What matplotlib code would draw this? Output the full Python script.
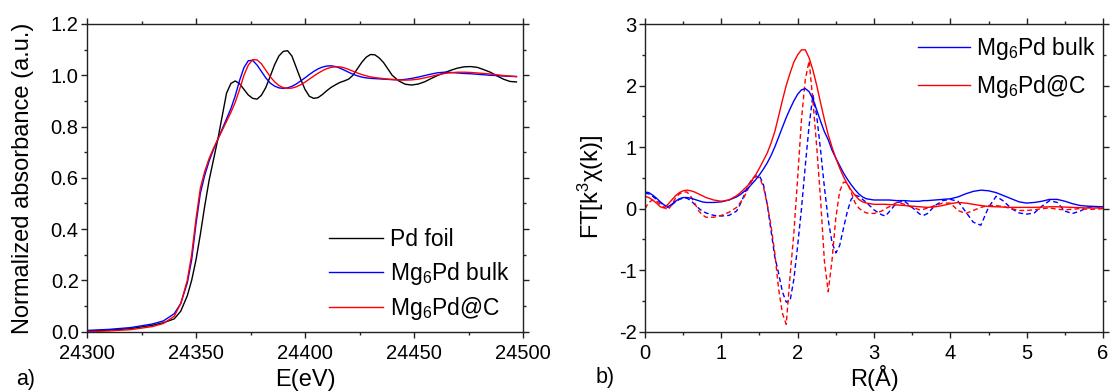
import matplotlib
matplotlib.use("Agg")
import matplotlib.pyplot as plt
from matplotlib.ticker import MultipleLocator

plt.rcParams['font.family'] = ['Liberation Sans', 'DejaVu Sans']
plt.rcParams['mathtext.fontset'] = 'custom'
plt.rcParams['mathtext.rm'] = 'Liberation Sans'
plt.rcParams['mathtext.it'] = 'Liberation Sans:italic'
plt.rcParams['mathtext.bf'] = 'Liberation Sans:bold'
plt.rcParams['axes.unicode_minus'] = False

# ---------------- Panel a) XANES ----------------
energy = [24300, 24310, 24320, 24330, 24335, 24340, 24343, 24346, 24348, 24350,
          24352, 24354, 24356, 24358, 24360, 24362, 24364, 24366, 24368, 24370,
          24372, 24374, 24376, 24378, 24380, 24382, 24384, 24386, 24388, 24390,
          24392, 24394, 24396, 24398, 24400, 24402, 24404, 24406, 24408, 24410,
          24412, 24414, 24416, 24418, 24420, 24422, 24424, 24426, 24428, 24430,
          24432, 24434, 24436, 24438, 24440, 24443, 24446, 24449, 24452, 24455,
          24458, 24461, 24464, 24467, 24470, 24473, 24476, 24479, 24482, 24485,
          24488, 24491, 24494, 24497]

pd_foil = [0.003, 0.006, 0.012, 0.025, 0.035, 0.05, 0.08, 0.14, 0.20, 0.28,
           0.38, 0.49, 0.59, 0.67, 0.75, 0.84, 0.93, 0.968, 0.978, 0.967,
           0.945, 0.923, 0.910, 0.907, 0.922, 0.952, 0.995, 1.04, 1.075, 1.093,
           1.096, 1.075, 1.030, 0.985, 0.945, 0.918, 0.910, 0.913, 0.925, 0.940,
           0.953, 0.963, 0.972, 0.978, 0.985, 1.0, 1.025, 1.050, 1.070, 1.081,
           1.080, 1.068, 1.050, 1.025, 1.0, 0.978, 0.965, 0.962, 0.966, 0.975,
           0.988, 1.0, 1.010, 1.02, 1.028, 1.033, 1.034, 1.031, 1.022, 1.012,
           0.998, 0.985, 0.976, 0.974]

mg6pd_bulk_xanes = [0.005, 0.009, 0.016, 0.03, 0.042, 0.07, 0.11, 0.19, 0.28, 0.42,
                    0.54, 0.61, 0.665, 0.71, 0.75, 0.79, 0.83, 0.87, 0.92, 0.98,
                    1.03, 1.057, 1.058, 1.04, 1.015, 0.99, 0.97, 0.958, 0.951, 0.949,
                    0.951, 0.957, 0.966, 0.978, 0.99, 1.003, 1.015, 1.025, 1.032, 1.036,
                    1.037, 1.034, 1.028, 1.02, 1.012, 1.004, 0.998, 0.993, 0.99, 0.988,
                    0.987, 0.986, 0.985, 0.984, 0.983, 0.982, 0.984, 0.988, 0.993, 0.999,
                    1.005, 1.01, 1.012, 1.011, 1.009, 1.007, 1.006, 1.004, 1.002, 1.0,
                    0.999, 0.997, 0.996, 0.995]

mg6pd_c_xanes = [0.0, 0.003, 0.008, 0.02, 0.032, 0.06, 0.11, 0.2, 0.3, 0.44,
                 0.56, 0.625, 0.675, 0.715, 0.75, 0.785, 0.82, 0.855, 0.895, 0.945,
                 1.0, 1.04, 1.061, 1.06, 1.045, 1.02, 0.995, 0.975, 0.96, 0.952,
                 0.949, 0.950, 0.955, 0.963, 0.973, 0.985, 0.997, 1.008, 1.018, 1.026,
                 1.031, 1.033, 1.033, 1.029, 1.023, 1.016, 1.009, 1.003, 0.998, 0.994,
                 0.991, 0.989, 0.987, 0.985, 0.984, 0.982, 0.981, 0.982, 0.985, 0.99,
                 0.996, 1.002, 1.007, 1.01, 1.012, 1.012, 1.011, 1.009, 1.007, 1.005,
                 1.002, 0.999, 0.997, 0.995]

# ---------------- Panel b) FT ----------------
r = [0.0, 0.05, 0.1, 0.15, 0.2, 0.25, 0.3, 0.35, 0.4, 0.45,
     0.5, 0.55, 0.6, 0.65, 0.7, 0.75, 0.8, 0.9, 1.0, 1.1,
     1.2, 1.25, 1.3, 1.35, 1.4, 1.45, 1.5, 1.55, 1.6, 1.65,
     1.7, 1.75, 1.8, 1.85, 1.9, 1.95, 2.0, 2.05, 2.1, 2.15,
     2.2, 2.25, 2.3, 2.35, 2.4, 2.45, 2.5, 2.55, 2.6, 2.65,
     2.7, 2.75, 2.8, 2.85, 2.9, 3.0, 3.1, 3.15, 3.2, 3.3,
     3.4, 3.5, 3.6, 3.65, 3.7, 3.8, 3.9, 4.0, 4.1, 4.2,
     4.3, 4.4, 4.5, 4.6, 4.7, 4.8, 4.9, 5.0, 5.1, 5.2,
     5.3, 5.4, 5.5, 5.6, 5.7, 5.8, 5.9, 6.0]

bulk_mag = [0.27, 0.26, 0.22, 0.17, 0.11, 0.06, 0.03, 0.07, 0.12, 0.16,
            0.18, 0.18, 0.17, 0.15, 0.13, 0.11, 0.10, 0.10, 0.11, 0.14,
            0.19, 0.23, 0.28, 0.33, 0.40, 0.47, 0.55, 0.64, 0.74, 0.86,
            1.0, 1.16, 1.32, 1.48, 1.62, 1.75, 1.86, 1.93, 1.95, 1.90,
            1.78, 1.60, 1.42, 1.25, 1.12, 0.95, 0.82, 0.70, 0.58, 0.48,
            0.39, 0.31, 0.24, 0.19, 0.16, 0.14, 0.14, 0.14, 0.14, 0.13,
            0.13, 0.12, 0.12, 0.13, 0.13, 0.14, 0.15, 0.16, 0.19, 0.24,
            0.28, 0.30, 0.29, 0.26, 0.21, 0.16, 0.11, 0.09, 0.10, 0.12,
            0.15, 0.15, 0.12, 0.08, 0.05, 0.04, 0.035, 0.03]

c_mag = [0.20, 0.18, 0.14, 0.09, 0.03, 0.01, 0.07, 0.14, 0.21, 0.26,
         0.29, 0.30, 0.29, 0.27, 0.24, 0.21, 0.18, 0.14, 0.12, 0.14,
         0.21, 0.26, 0.32, 0.38, 0.46, 0.55, 0.66, 0.78, 0.90, 1.06,
         1.25, 1.50, 1.76, 2.0, 2.2, 2.38, 2.5, 2.58, 2.58, 2.45,
         2.25, 2.0, 1.72, 1.45, 1.2, 1.0, 0.82, 0.66, 0.52, 0.40,
         0.30, 0.22, 0.15, 0.11, 0.09, 0.07, 0.07, 0.07, 0.065, 0.06,
         0.05, 0.04, 0.03, 0.025, 0.02, 0.03, 0.05, 0.08, 0.10, 0.09,
         0.07, 0.05, 0.035, 0.03, 0.025, 0.02, 0.02, 0.02, 0.02, 0.025,
         0.03, 0.03, 0.025, 0.02, 0.015, 0.01, 0.01, 0.01]

bulk_im = [0.25, 0.24, 0.2, 0.15, 0.1, 0.05, 0.02, 0.06, 0.11, 0.15,
           0.17, 0.17, 0.13, 0.07, 0.01, -0.04, -0.07, -0.11, -0.12, -0.11,
           -0.04, 0.08, 0.22, 0.37, 0.48, 0.53, 0.53, 0.40, 0.08, -0.35,
           -0.78, -1.05, -1.35, -1.52, -1.5, -1.15, -0.6, 0.0, 0.7, 1.35,
           1.85, 1.5, 0.95, 0.35, -0.18, -0.55, -0.72, -0.6, -0.32, -0.05,
           0.15, 0.22, 0.2, 0.15, 0.1, -0.02, -0.1, -0.12, -0.05, 0.1,
           0.12, 0.02, -0.09, -0.11, -0.08, 0.05, 0.13, 0.15, 0.12, -0.05,
           -0.22, -0.27, 0.02, 0.2, 0.12, 0.0, -0.07, -0.09, -0.07, 0.04,
           0.13, 0.1, -0.04, -0.08, -0.04, 0.02, 0.03, 0.02]

c_im = [0.0, 0.1, 0.14, 0.12, 0.07, 0.02, -0.02, 0.06, 0.17, 0.24,
        0.27, 0.27, 0.2, 0.09, -0.03, -0.1, -0.14, -0.14, -0.11, -0.06,
        0.02, 0.1, 0.19, 0.32, 0.45, 0.52, 0.5, 0.36, 0.08, -0.27,
        -0.72, -1.3, -1.7, -1.88, -1.1, -0.4, 0.5, 1.45, 2.1, 2.4,
        1.75, 1.0, 0.15, -0.85, -1.35, -0.84, -0.15, 0.28, 0.43, 0.42,
        0.27, 0.1, 0.01, -0.04, -0.07, -0.08, -0.04, 0.0, 0.03, 0.1,
        0.07, 0.02, -0.02, -0.01, 0.01, 0.05, 0.09, 0.09, -0.03, -0.08,
        -0.03, 0.02, 0.05, 0.05, 0.03, 0.0, -0.03, -0.03, -0.02, 0.0,
        0.01, -0.01, -0.02, -0.01, 0.0, -0.01, -0.01, 0.0]

W, H = 1112, 392
fig = plt.figure(figsize=(W / 100, H / 100), dpi=100)

ax1 = fig.add_axes([87 / W, 1 - 331.7 / H, (523 - 87) / W, (331.7 - 24) / H])
ax2 = fig.add_axes([645 / W, 1 - 331.7 / H, (1103 - 645) / W, (331.7 - 24) / H])

BLUE = '#0000ff'
RED = '#ff0000'
lw = 1.0

ax1.plot(energy, pd_foil, color='black', lw=lw, label='Pd foil')
ax1.plot(energy, mg6pd_bulk_xanes, color=BLUE, lw=lw, label='Mg$_6$Pd bulk')
ax1.plot(energy, mg6pd_c_xanes, color=RED, lw=lw, label='Mg$_6$Pd@C')
ax1.set_xlim(24300, 24500)
ax1.set_ylim(0, 1.2)
ax1.xaxis.set_major_locator(MultipleLocator(50))
ax1.xaxis.set_minor_locator(MultipleLocator(25))
ax1.yaxis.set_major_locator(MultipleLocator(0.2))
ax1.yaxis.set_minor_locator(MultipleLocator(0.1))
ax1.yaxis.set_major_formatter(matplotlib.ticker.FormatStrFormatter('%.1f'))

dash = (0, (3.5, 2.2))
ax2.plot(r, bulk_im, color=BLUE, lw=lw, linestyle=dash)
ax2.plot(r, c_im, color=RED, lw=lw, linestyle=dash)
ax2.plot(r, bulk_mag, color=BLUE, lw=lw, label='Mg$_6$Pd bulk')
ax2.plot(r, c_mag, color=RED, lw=lw, label='Mg$_6$Pd@C')
ax2.set_xlim(0, 6)
ax2.set_ylim(-2, 3)
ax2.xaxis.set_major_locator(MultipleLocator(1))
ax2.xaxis.set_minor_locator(MultipleLocator(0.5))
ax2.yaxis.set_major_locator(MultipleLocator(1))
ax2.yaxis.set_minor_locator(MultipleLocator(0.5))

for ax in (ax1, ax2):
    for s in ax.spines.values():
        s.set_linewidth(1.0)
        s.set_color('#222222')
    ax.tick_params(which='both', direction='out', top=True, right=True,
                   labeltop=False, labelright=False, width=1.0, color='#222222')
    ax.tick_params(which='major', length=4, labelsize=14.5)
    ax.tick_params(which='minor', length=2.5)
    ax.tick_params(axis='x', which='major', pad=5)
    ax.tick_params(axis='y', which='major', pad=2)

ax1.set_xlabel('E(eV)', fontsize=17, va='baseline')
ax1.xaxis.set_label_coords(0.5, (331.7 - 386) / 307.7)
ax1.set_ylabel('Normalized absorbance (a.u.)', fontsize=17)
ax1.yaxis.set_label_coords((34 - 87) / 436, 0.5)

ax2.set_xlabel('R(Å)', fontsize=17, va='baseline')
ax2.xaxis.set_label_coords(0.5, (331.7 - 386) / 307.7)
ax2.set_ylabel('FT[k$^3$χ(k)]', fontsize=17)
ax2.yaxis.set_label_coords((606 - 645) / 458, 0.47)

fig.text(16 / W, 1 - 379 / H, 'a)', fontsize=15.5, ha='left', va='center')
fig.text(596 / W, 1 - 377 / H, 'b)', fontsize=15.5, ha='left', va='center')

leg1 = ax1.legend(loc='lower left', bbox_to_anchor=((329 - 87) / 436, (331.7 - 322) / 307.7),
                  frameon=False, fontsize=16.5, handlelength=2.35, handletextpad=0.3,
                  borderpad=0, borderaxespad=0, labelspacing=0.36)
leg2 = ax2.legend(loc='upper left', bbox_to_anchor=((918 - 645) / 458, (331.7 - 35) / 307.7),
                  frameon=False, fontsize=16.5, handlelength=2.25, handletextpad=0.3,
                  borderpad=0, borderaxespad=0, labelspacing=0.5)

fig.savefig('out.png', dpi=100)
